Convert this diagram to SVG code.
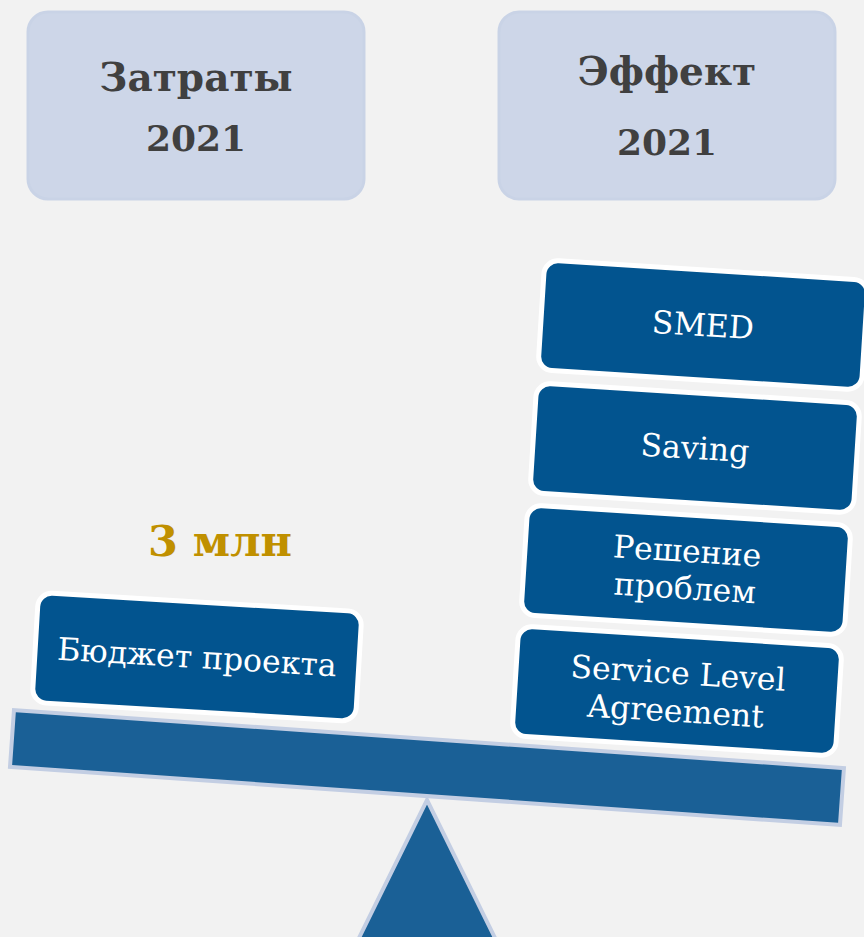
<svg xmlns="http://www.w3.org/2000/svg" width="864" height="937" viewBox="0 0 864 937">
<style>
.hdr{fill:#cdd6e8;stroke:#c9d3e6;stroke-width:3}
.ht{font-family:"DejaVu Serif","Liberation Serif",serif;font-weight:bold;fill:#404040;text-anchor:middle}
.blk{fill:#02548f;stroke:#ffffff;stroke-width:5}
.bt{font-family:"DejaVu Serif","Liberation Serif",serif;font-size:31.5px;fill:#ffffff;text-anchor:middle}
.scale{fill:#1a6096;stroke:#c3cee3;stroke-width:4}
</style>
<rect width="864" height="937" fill="#f2f2f2"/>
<g id="header-costs">
<rect class="hdr" x="28" y="12" width="336" height="187" rx="20"/>
<text class="ht" x="196" y="91" font-size="39">Затраты</text>
<text class="ht" x="196" y="151" font-size="36">2021</text>
</g>
<g id="header-effect">
<rect class="hdr" x="499" y="12" width="336" height="187" rx="20"/>
<text class="ht" x="667" y="85" font-size="39">Эффект</text>
<text class="ht" x="667" y="155" font-size="36">2021</text>
</g>
<g id="fulcrum">
<polygon class="scale" points="427,800 496,940 358,940"/>
</g>
<g id="beam">
<rect class="scale" x="-416" y="-28" width="832" height="57" transform="translate(427,767) rotate(4)"/>
</g>
<g id="amount">
<text x="220" y="556" font-family="DejaVu Serif, Liberation Serif, serif" font-weight="bold" font-size="43" fill="#c09000" text-anchor="middle">3 млн</text>
</g>
<g id="budget" transform="translate(197,657) rotate(3.4)">
<rect class="blk" x="-162" y="-55" width="324" height="110" rx="14"/>
<text class="bt" x="0" y="11">Бюджет проекта</text>
</g>
<g id="sla" transform="translate(677,691) rotate(3.6)">
<rect class="blk" x="-162" y="-55" width="324" height="110" rx="14"/>
<text class="bt" x="0" y="-7">Service Level</text>
<text class="bt" x="0" y="31">Agreement</text>
</g>
<g id="problems" transform="translate(686,570) rotate(3.6)">
<rect class="blk" x="-162" y="-55" width="324" height="110" rx="14"/>
<text class="bt" x="0" y="-8">Решение</text>
<text class="bt" x="0" y="29">проблем</text>
</g>
<g id="saving" transform="translate(695,448) rotate(3.6)">
<rect class="blk" x="-162" y="-55" width="324" height="110" rx="14"/>
<text class="bt" x="0" y="11">Saving</text>
</g>
<g id="smed" transform="translate(703,325) rotate(3.6)">
<rect class="blk" x="-162" y="-55" width="324" height="110" rx="14"/>
<text class="bt" x="0" y="11">SMED</text>
</g>
</svg>
